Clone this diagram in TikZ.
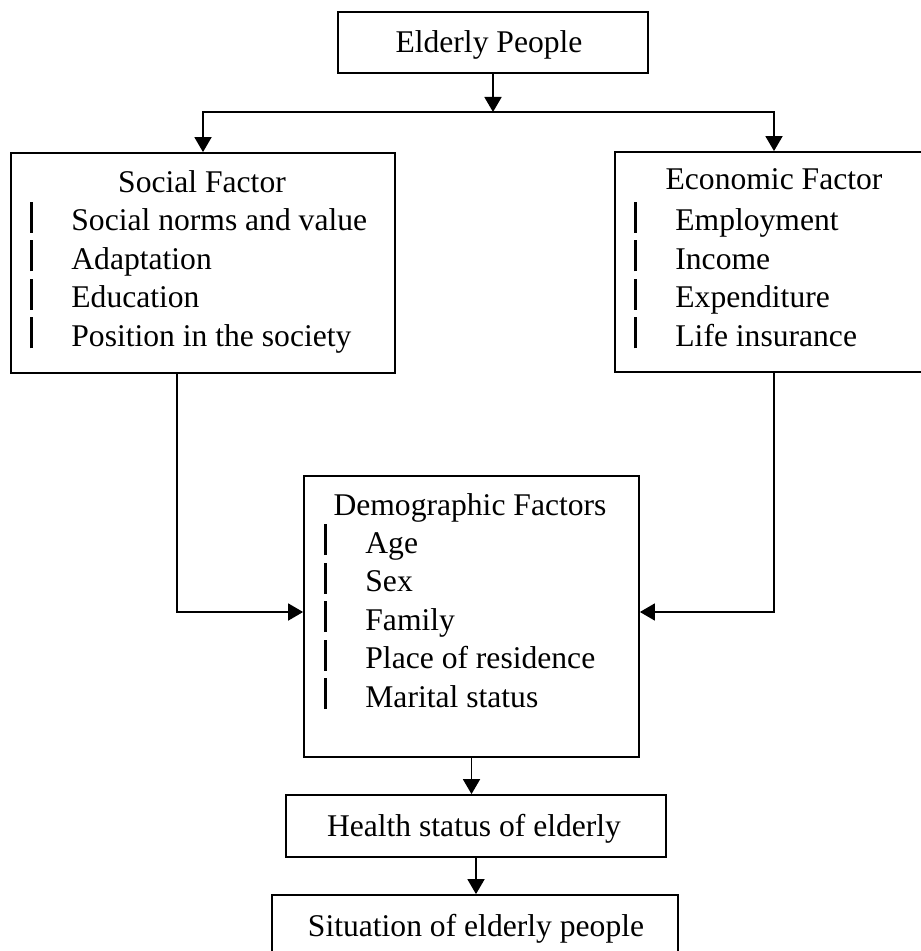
\documentclass[tikz,border=0pt]{standalone}
\usepackage{fontspec}
\setmainfont{Liberation Serif}
\usetikzlibrary{arrows.meta}

\tikzset{
  box/.style={draw, line width=0.9pt, inner sep=0pt},
  txt/.style={inner sep=0pt, font=\fontsize{15.8}{19}\selectfont},
  flow/.style={-{Triangle[length=7.5pt,width=8.5pt]}, line width=0.9pt}
}
\newcommand{\itembar}{\makebox[20.5pt][l]{\rule[-1pt]{1.5pt}{15.5pt}}}

\begin{document}
\begin{tikzpicture}[x=0.5pt,y=-0.5pt]
\useasboundingbox (0,0) rectangle (920,951);
% Nodes
\node[box,minimum width=155pt,minimum height=30.5pt] (elder) at (493,42.5) {};
\node[box,minimum width=192pt,minimum height=110pt] (social) at (203,263) {};
\node[box,minimum width=172.5pt,minimum height=110pt] (econ) at (787.5,262) {};
\node[box,minimum width=167.5pt,minimum height=140.5pt] (demo) at (471.5,616.5) {};
\node[box,minimum width=190pt,minimum height=31pt] (health) at (476,826) {};
\node[box,minimum width=203pt,minimum height=31pt] (situation) at (475,926) {};

% Texts
\node[txt,anchor=base] (elderT) at (489,53) {Elderly People};
\node[txt,anchor=base] (socialT) at (202,193) {Social Factor};
\node[txt,anchor=base] (econT) at (774,190) {Economic Factor};
\node[txt,anchor=base] (demoT) at (470,515) {Demographic Factors};
\node[txt,anchor=base] (healthT) at (474,836) {Health status of elderly};
\node[txt,anchor=base] (situationT) at (476,936) {Situation of elderly people};

\foreach \t [count=\i] in {Social norms and value, Adaptation, Education, Position in the society}
  \node[txt,anchor=base west] (social\i) at (30,192.5+38.5*\i) {\itembar\t};
\foreach \t [count=\i] in {Employment, Income, Expenditure, Life insurance}
  \node[txt,anchor=base west] (econ\i) at (634,192.5+38.5*\i) {\itembar\t};
\foreach \t [count=\i] in {Age, Sex, Family, Place of residence, Marital status}
  \node[txt,anchor=base west] (demo\i) at (324,514.5+38.5*\i) {\itembar\t};

% Edges
\coordinate (split) at (493,112);
\draw[flow] (elder.south) -- (split);
\draw[flow] (split) -| (social.north);
\draw[flow] (split) -| ([xshift=-6.75pt]econ.north);
\draw[flow] ([xshift=-13pt]social.south) |- ([yshift=2.25pt]demo.west);
\draw[flow] ([xshift=-6.75pt]econ.south) |- ([yshift=2.25pt]demo.east);
\draw[flow] (demo.south) -- (demo.south |- health.north);
\draw[flow] (health.south) -- (health.south |- situation.north);
\end{tikzpicture}
\end{document}
